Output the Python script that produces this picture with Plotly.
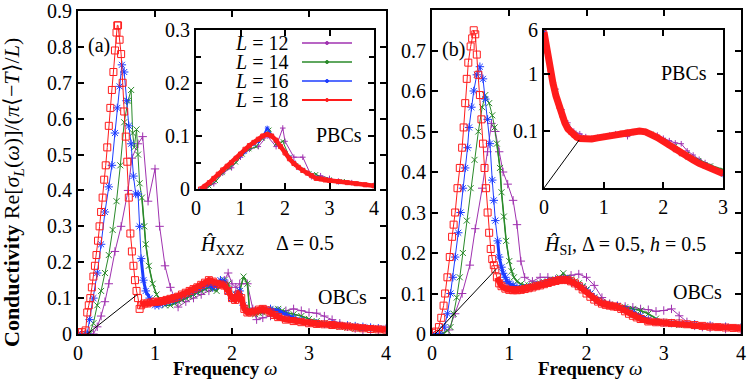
import plotly.graph_objects as go

W, H = 748, 383
FONT = "Liberation Serif, Times New Roman, serif"

# ---- data: (omega, Re sigma) ----
# panel (a): H_XXZ, OBCs
a12 = [(0, 0), (0.1, 0), (0.2, 0.0), (0.25, 0.02), (0.3, 0.05), (0.35, 0.09), (0.4, 0.14), (0.48, 0.23),
       (0.56, 0.3), (0.65, 0.4), (0.7, 0.49), (0.78, 0.53), (0.84, 0.55), (0.91, 0.37), (1.0, 0.46), (1.06, 0.3),
       (1.13, 0.19), (1.2, 0.13), (1.26, 0.1), (1.3, 0.075), (1.4, 0.09), (1.5, 0.1), (1.6, 0.11), (1.7, 0.12),
       (1.8, 0.13), (1.9, 0.15), (1.95, 0.17), (2.0, 0.14), (2.05, 0.13), (2.1, 0.14), (2.2, 0.14), (2.27, 0.07),
       (2.32, 0.04), (2.4, 0.045), (2.5, 0.05), (2.6, 0.055), (2.7, 0.065), (2.8, 0.07), (2.9, 0.065), (3.0, 0.06),
       (3.1, 0.058), (3.2, 0.05), (3.3, 0.04), (3.4, 0.03), (3.5, 0.02), (3.6, 0.015), (3.7, 0.01), (3.8, 0.012),
       (3.9, 0.01), (4.0, 0.008)]
a14 = [(0, 0), (0.1, 0), (0.15, 0.0), (0.2, 0.03), (0.25, 0.08), (0.3, 0.12), (0.35, 0.17), (0.4, 0.22),
       (0.45, 0.29), (0.5, 0.37), (0.55, 0.47), (0.6, 0.59), (0.65, 0.65), (0.69, 0.68), (0.71, 0.56), (0.73, 0.52),
       (0.76, 0.57), (0.78, 0.5), (0.8, 0.42), (0.83, 0.38), (0.86, 0.3), (0.88, 0.25), (0.92, 0.19), (0.97, 0.14),
       (1.02, 0.11), (1.08, 0.09), (1.13, 0.08), (1.2, 0.08), (1.25, 0.085), (1.3, 0.09), (1.35, 0.095), (1.4, 0.1),
       (1.45, 0.105), (1.5, 0.11), (1.55, 0.115), (1.6, 0.12), (1.65, 0.125), (1.7, 0.13), (1.75, 0.125), (1.8, 0.12),
       (1.85, 0.135), (1.9, 0.15), (1.95, 0.14), (2.0, 0.1), (2.05, 0.11), (2.1, 0.12), (2.15, 0.16), (2.2, 0.14),
       (2.23, 0.06), (2.3, 0.055), (2.35, 0.058), (2.4, 0.06), (2.45, 0.063), (2.5, 0.065), (2.55, 0.068), (2.6, 0.07),
       (2.65, 0.065), (2.7, 0.06), (2.8, 0.055), (2.9, 0.05), (3.0, 0.042), (3.1, 0.036), (3.2, 0.03), (3.3, 0.025),
       (3.4, 0.02), (3.5, 0.018), (3.6, 0.015), (3.7, 0.015), (3.8, 0.015), (3.9, 0.013), (4.0, 0.012)]
a16 = [(0, 0), (0.1, 0), (0.12, 0.0), (0.15, 0.04), (0.2, 0.1), (0.25, 0.17), (0.3, 0.25), (0.35, 0.34),
       (0.4, 0.41), (0.44, 0.47), (0.48, 0.56), (0.51, 0.63), (0.54, 0.69), (0.57, 0.75), (0.6, 0.73), (0.63, 0.65),
       (0.66, 0.58), (0.69, 0.53), (0.72, 0.44), (0.75, 0.39), (0.78, 0.39), (0.8, 0.3), (0.82, 0.21), (0.85, 0.15),
       (0.88, 0.12), (0.93, 0.1), (1.0, 0.08), (1.05, 0.08), (1.1, 0.085), (1.15, 0.09), (1.2, 0.092), (1.25, 0.095),
       (1.3, 0.1), (1.35, 0.105), (1.4, 0.11), (1.45, 0.115), (1.5, 0.12), (1.55, 0.125), (1.6, 0.13), (1.65, 0.135),
       (1.7, 0.14), (1.75, 0.13), (1.8, 0.135), (1.85, 0.15), (1.9, 0.145), (1.95, 0.12), (2.0, 0.1), (2.05, 0.11),
       (2.1, 0.12), (2.15, 0.08), (2.2, 0.065), (2.25, 0.062), (2.3, 0.065), (2.4, 0.068), (2.5, 0.07), (2.6, 0.065),
       (2.7, 0.055), (2.8, 0.045), (2.9, 0.038), (3.0, 0.032), (3.1, 0.03), (3.2, 0.028), (3.3, 0.027), (3.4, 0.025),
       (3.5, 0.024), (3.6, 0.022), (3.7, 0.02), (3.8, 0.018), (3.9, 0.016), (4.0, 0.015)]
a18 = [(0, 0.005), (0.05, 0.005), (0.1, 0.01), (0.12, 0.06), (0.14, 0.08), (0.16, 0.1), (0.18, 0.13), (0.2, 0.16),
       (0.22, 0.19), (0.24, 0.22), (0.26, 0.26), (0.28, 0.3), (0.3, 0.34), (0.32, 0.38), (0.34, 0.43), (0.36, 0.47),
       (0.38, 0.52), (0.4, 0.58), (0.42, 0.63), (0.44, 0.68), (0.46, 0.73), (0.48, 0.79), (0.5, 0.84), (0.51, 0.86),
       (0.52, 0.86), (0.54, 0.82), (0.56, 0.78), (0.58, 0.7), (0.6, 0.62), (0.62, 0.55), (0.64, 0.48), (0.66, 0.38),
       (0.68, 0.28), (0.7, 0.23), (0.72, 0.19), (0.74, 0.15), (0.76, 0.12), (0.78, 0.1), (0.8, 0.07), (0.82, 0.08),
       (0.86, 0.085), (0.9, 0.085), (0.95, 0.088), (1.0, 0.09), (1.05, 0.09), (1.1, 0.092), (1.15, 0.095), (1.2, 0.098),
       (1.25, 0.1), (1.3, 0.104), (1.35, 0.11), (1.4, 0.115), (1.45, 0.12), (1.5, 0.125), (1.55, 0.13), (1.6, 0.137),
       (1.65, 0.143), (1.7, 0.15), (1.75, 0.146), (1.8, 0.14), (1.85, 0.138), (1.9, 0.135), (1.95, 0.12), (2.0, 0.1),
       (2.04, 0.095), (2.08, 0.11), (2.12, 0.1), (2.16, 0.07), (2.2, 0.06), (2.25, 0.06), (2.3, 0.063), (2.35, 0.068),
       (2.4, 0.07), (2.45, 0.066), (2.5, 0.06), (2.55, 0.053), (2.6, 0.047), (2.7, 0.04), (2.8, 0.036), (2.9, 0.033),
       (3.0, 0.03), (3.1, 0.028), (3.2, 0.027), (3.3, 0.025), (3.4, 0.023), (3.5, 0.021), (3.6, 0.018), (3.7, 0.016),
       (3.8, 0.014), (3.9, 0.013), (4.0, 0.012)]

# panel (a) inset: PBCs
ia12 = [(0.2, 0), (0.4, 0.01), (0.6, 0.03), (0.8, 0.04), (1.0, 0.06), (1.2, 0.075), (1.4, 0.08), (1.6, 0.1),
        (1.8, 0.08), (1.95, 0.115), (2.0, 0.09), (2.2, 0.06), (2.4, 0.06), (2.6, 0.023), (2.8, 0.025), (3.0, 0.02),
        (3.2, 0.015), (3.5, 0.012), (4.0, 0.007)]
ia14 = [(0.15, 0), (0.3, 0.005), (0.45, 0.015), (0.6, 0.03), (0.75, 0.04), (0.9, 0.05), (1.05, 0.065),
        (1.2, 0.075), (1.35, 0.08), (1.5, 0.095), (1.65, 0.112), (1.8, 0.085), (1.95, 0.09), (2.1, 0.06),
        (2.25, 0.045), (2.4, 0.035), (2.55, 0.03), (2.7, 0.028), (2.85, 0.02), (3.0, 0.018), (3.3, 0.015),
        (3.6, 0.01), (4.0, 0.007)]
ia16 = [(0.1, 0), (0.2, 0.004), (0.3, 0.01), (0.4, 0.018), (0.5, 0.026), (0.6, 0.034), (0.7, 0.042), (0.8, 0.05),
        (0.9, 0.057), (1.0, 0.063), (1.1, 0.07), (1.2, 0.08), (1.3, 0.085), (1.4, 0.09), (1.5, 0.098), (1.6, 0.115),
        (1.7, 0.1), (1.8, 0.09), (1.9, 0.08), (2.0, 0.07), (2.1, 0.06), (2.2, 0.05), (2.3, 0.04), (2.4, 0.036),
        (2.5, 0.03), (2.6, 0.026), (2.7, 0.022), (2.8, 0.02), (3.0, 0.016), (3.2, 0.013), (3.4, 0.012), (3.6, 0.01),
        (3.8, 0.008), (4.0, 0.006)]
ia18 = [(0.1, 0.0), (0.2, 0.005), (0.3, 0.012), (0.4, 0.02), (0.5, 0.028), (0.6, 0.036), (0.7, 0.043), (0.8, 0.05),
        (0.9, 0.058), (1.0, 0.066), (1.1, 0.075), (1.2, 0.082), (1.3, 0.088), (1.4, 0.094), (1.5, 0.1), (1.6, 0.103),
        (1.7, 0.1), (1.8, 0.092), (1.9, 0.08), (2.0, 0.068), (2.1, 0.057), (2.2, 0.048), (2.3, 0.041), (2.4, 0.035),
        (2.5, 0.03), (2.6, 0.025), (2.7, 0.02), (2.8, 0.019), (2.9, 0.017), (3.0, 0.016), (3.2, 0.014), (3.4, 0.012),
        (3.6, 0.01), (3.8, 0.008), (4.0, 0.006)]

# panel (b): H_SI, OBCs
b12 = [(0, 0), (0.1, 0), (0.22, 0.01), (0.3, 0.05), (0.39, 0.1), (0.49, 0.17), (0.56, 0.26), (0.65, 0.36),
       (0.72, 0.45), (0.77, 0.52), (0.82, 0.5), (0.87, 0.45), (0.92, 0.4), (0.98, 0.37), (1.05, 0.33), (1.1, 0.27),
       (1.15, 0.18), (1.2, 0.14), (1.3, 0.13), (1.4, 0.14), (1.5, 0.14), (1.6, 0.135), (1.7, 0.14), (1.8, 0.145),
       (1.9, 0.148), (2.0, 0.14), (2.1, 0.12), (2.2, 0.09), (2.3, 0.075), (2.4, 0.07), (2.5, 0.068), (2.6, 0.066),
       (2.7, 0.062), (2.8, 0.06), (2.9, 0.056), (3.0, 0.058), (3.1, 0.062), (3.2, 0.045), (3.3, 0.03), (3.4, 0.02),
       (3.5, 0.017), (3.6, 0.015), (3.8, 0.012), (4.0, 0.01)]
b14 = [(0, 0), (0.15, 0.002), (0.2, 0.008), (0.24, 0.017), (0.28, 0.05), (0.32, 0.09), (0.36, 0.14), (0.4, 0.2),
       (0.45, 0.28), (0.5, 0.36), (0.55, 0.43), (0.6, 0.5), (0.65, 0.56), (0.69, 0.59), (0.74, 0.57), (0.78, 0.54),
       (0.81, 0.51), (0.84, 0.47), (0.88, 0.41), (0.9, 0.35), (0.93, 0.29), (0.96, 0.23), (1.0, 0.18), (1.03, 0.155),
       (1.06, 0.14), (1.1, 0.13), (1.15, 0.123), (1.2, 0.12), (1.25, 0.12), (1.3, 0.12), (1.35, 0.122), (1.4, 0.125),
       (1.45, 0.128), (1.5, 0.13), (1.55, 0.133), (1.6, 0.135), (1.65, 0.14), (1.7, 0.15), (1.75, 0.14), (1.8, 0.135),
       (1.85, 0.13), (1.9, 0.125), (1.95, 0.118), (2.0, 0.11), (2.05, 0.1), (2.1, 0.09), (2.15, 0.083), (2.2, 0.078),
       (2.3, 0.072), (2.4, 0.068), (2.5, 0.066), (2.6, 0.062), (2.7, 0.058), (2.8, 0.05), (2.9, 0.038), (3.0, 0.03),
       (3.1, 0.025), (3.2, 0.022), (3.4, 0.02), (3.6, 0.018), (3.8, 0.017), (4.0, 0.016)]
b16 = [(0, 0), (0.1, 0.002), (0.16, 0.017), (0.2, 0.05), (0.24, 0.1), (0.27, 0.14), (0.3, 0.19), (0.34, 0.25),
       (0.37, 0.3), (0.4, 0.36), (0.43, 0.41), (0.46, 0.46), (0.48, 0.51), (0.51, 0.56), (0.54, 0.6), (0.58, 0.64),
       (0.62, 0.66), (0.66, 0.63), (0.69, 0.58), (0.72, 0.53), (0.75, 0.47), (0.78, 0.38), (0.8, 0.33), (0.82, 0.28),
       (0.85, 0.23), (0.87, 0.19), (0.9, 0.165), (0.92, 0.15), (0.95, 0.14), (0.97, 0.13), (1.0, 0.125), (1.05, 0.12),
       (1.1, 0.115), (1.15, 0.113), (1.2, 0.113), (1.25, 0.115), (1.3, 0.117), (1.35, 0.12), (1.4, 0.122),
       (1.45, 0.125), (1.5, 0.128), (1.55, 0.13), (1.6, 0.132), (1.65, 0.134), (1.7, 0.136), (1.75, 0.135),
       (1.8, 0.13), (1.85, 0.125), (1.9, 0.12), (1.95, 0.115), (2.0, 0.108), (2.05, 0.1), (2.1, 0.09), (2.15, 0.082),
       (2.2, 0.077), (2.3, 0.072), (2.4, 0.069), (2.5, 0.062), (2.6, 0.054), (2.7, 0.045), (2.8, 0.036), (2.9, 0.031),
       (3.0, 0.028), (3.1, 0.027), (3.2, 0.026), (3.4, 0.024), (3.6, 0.021), (3.8, 0.018), (4.0, 0.016)]
b18 = [(0, 0.003), (0.05, 0.006), (0.09, 0.017), (0.12, 0.04), (0.15, 0.07), (0.17, 0.1), (0.2, 0.14), (0.23, 0.19),
       (0.26, 0.24), (0.28, 0.27), (0.3, 0.3), (0.33, 0.36), (0.36, 0.41), (0.39, 0.46), (0.41, 0.51), (0.43, 0.57),
       (0.45, 0.63), (0.47, 0.67), (0.5, 0.71), (0.52, 0.73), (0.54, 0.75), (0.56, 0.74), (0.58, 0.69), (0.6, 0.64),
       (0.62, 0.59), (0.64, 0.53), (0.66, 0.47), (0.68, 0.41), (0.7, 0.36), (0.72, 0.3), (0.74, 0.25), (0.76, 0.21),
       (0.78, 0.185), (0.8, 0.17), (0.82, 0.16), (0.84, 0.14), (0.87, 0.125), (0.9, 0.118), (0.95, 0.112), (1.0, 0.109),
       (1.05, 0.108), (1.1, 0.108), (1.15, 0.109), (1.2, 0.111), (1.25, 0.113), (1.3, 0.115), (1.35, 0.118),
       (1.4, 0.12), (1.45, 0.123), (1.5, 0.126), (1.55, 0.129), (1.6, 0.131), (1.65, 0.133), (1.7, 0.134),
       (1.75, 0.133), (1.8, 0.13), (1.85, 0.125), (1.9, 0.118), (1.95, 0.11), (2.0, 0.1), (2.05, 0.092), (2.1, 0.085),
       (2.15, 0.08), (2.2, 0.075), (2.25, 0.072), (2.3, 0.07), (2.35, 0.068), (2.4, 0.067), (2.45, 0.062),
       (2.5, 0.056), (2.55, 0.05), (2.6, 0.045), (2.65, 0.041), (2.7, 0.037), (2.8, 0.031), (2.9, 0.029), (3.0, 0.028),
       (3.1, 0.027), (3.2, 0.026), (3.3, 0.024), (3.4, 0.022), (3.5, 0.02), (3.6, 0.018), (3.7, 0.017), (3.8, 0.016),
       (3.9, 0.015), (4.0, 0.014)]

# panel (b) inset: PBCs, log scale
ib12 = [(0, 5.8), (0.1, 1.5), (0.2, 0.55), (0.3, 0.24), (0.4, 0.14), (0.5, 0.1), (0.6, 0.09), (0.7, 0.08),
        (0.8, 0.075), (0.9, 0.078), (1.0, 0.08), (1.1, 0.085), (1.2, 0.09), (1.3, 0.088), (1.4, 0.08), (1.5, 0.095),
        (1.6, 0.1), (1.7, 0.098), (1.8, 0.09), (1.9, 0.085), (2.0, 0.075), (2.1, 0.068), (2.2, 0.062), (2.3, 0.06),
        (2.4, 0.045), (2.5, 0.038), (2.6, 0.032), (2.7, 0.028), (2.8, 0.024), (2.9, 0.021), (3.0, 0.019)]
ib14 = [(0, 5.6), (0.1, 1.4), (0.2, 0.5), (0.3, 0.21), (0.4, 0.12), (0.5, 0.09), (0.6, 0.078), (0.8, 0.074),
        (1.0, 0.08), (1.2, 0.088), (1.4, 0.097), (1.6, 0.1), (1.8, 0.09), (2.0, 0.07), (2.2, 0.055), (2.4, 0.04),
        (2.6, 0.031), (2.8, 0.025), (3.0, 0.021)]
ib16 = [(0, 5.5), (0.1, 1.3), (0.2, 0.46), (0.3, 0.2), (0.4, 0.115), (0.5, 0.087), (0.6, 0.076), (0.8, 0.073),
        (1.0, 0.079), (1.2, 0.087), (1.4, 0.096), (1.6, 0.1), (1.8, 0.089), (2.0, 0.068), (2.2, 0.05), (2.4, 0.037),
        (2.6, 0.029), (2.8, 0.023), (3.0, 0.017)]
ib18 = [(0, 5.5), (0.05, 2.5), (0.1, 1.2), (0.15, 0.7), (0.2, 0.42), (0.25, 0.27), (0.3, 0.19), (0.35, 0.14),
        (0.4, 0.11), (0.45, 0.095), (0.5, 0.085), (0.55, 0.078), (0.6, 0.074), (0.7, 0.072), (0.8, 0.073),
        (0.9, 0.076), (1.0, 0.079), (1.1, 0.083), (1.2, 0.087), (1.3, 0.092), (1.4, 0.096), (1.5, 0.099), (1.6, 0.1),
        (1.7, 0.097), (1.8, 0.088), (1.9, 0.077), (2.0, 0.066), (2.1, 0.056), (2.2, 0.047), (2.3, 0.04),
        (2.4, 0.035), (2.5, 0.031), (2.6, 0.027), (2.7, 0.024), (2.8, 0.022), (2.9, 0.02), (3.0, 0.018)]

# pointer lines
ptr_a = [(0.12, 0.0), (0.77, 0.11)]
ptr_b = [(0.04, 0.0), (0.83, 0.16)]
ptr_b_inset = [(0.0, 0.01), (0.59, 0.07)]

sizes = [12, 14, 16, 18]
colors = {12: '#a032b0', 14: '#2a8a2a', 16: '#1d3cff', 18: '#ff1c1c'}
symbols = {12: 'cross-thin', 14: 'x-thin', 16: 'asterisk-open', 18: 'square-open'}
msize = {12: 6, 14: 6, 16: 7, 18: 7}


def xs(d):
    return [p[0] for p in d]


def ys(d):
    return [p[1] for p in d]


fig = go.Figure()


def main_series(data, L, xa, ya, tail_from):
    c = colors[L]
    fig.add_trace(go.Scatter(x=xs(data), y=ys(data), mode='lines+markers', xaxis=xa, yaxis=ya,
                             line=dict(color=c, width=1),
                             marker=dict(symbol=symbols[L], size=msize[L], color=c,
                                         line=dict(color=c, width=1)),
                             showlegend=False))
    # dense part of the spectrum drawn as a thick band
    tail = [p for p in data if p[0] >= tail_from]
    w = {12: 1, 14: 1.5, 16: 3, 18: 6}[L]
    if w > 1:
        fig.add_trace(go.Scatter(x=xs(tail), y=ys(tail), mode='lines', xaxis=xa, yaxis=ya,
                                 line=dict(color=c, width=w), showlegend=False))


def inset_series(data, L, xa, ya, w):
    c = colors[L]
    fig.add_trace(go.Scatter(x=xs(data), y=ys(data), mode='lines+markers', xaxis=xa, yaxis=ya,
                             line=dict(color=c, width=w),
                             marker=dict(symbol=symbols[L], size=4, color=c, line=dict(color=c, width=1)),
                             showlegend=False))


for L, d in zip(sizes, [a12, a14, a16, a18]):
    main_series(d, L, 'x', 'y', 0.82)
for L, d in zip(sizes, [b12, b14, b16, b18]):
    main_series(d, L, 'x3', 'y3', 0.84)
for L, d in zip(sizes, [ia12, ia14, ia16, ia18]):
    inset_series(d, L, 'x2', 'y2', {12: 1, 14: 1, 16: 2, 18: 4.5}[L])
for L, d in zip(sizes, [ib12, ib14, ib16, ib18]):
    inset_series(d, L, 'x4', 'y4', {12: 1, 14: 1.5, 16: 3, 18: 7}[L])

for d, xa, ya in [(ptr_a, 'x', 'y'), (ptr_b, 'x3', 'y3'), (ptr_b_inset, 'x4', 'y4')]:
    fig.add_trace(go.Scatter(x=xs(d), y=ys(d), mode='lines', xaxis=xa, yaxis=ya,
                             line=dict(color='black', width=1), showlegend=False))


def fx(px):
    return px / W


def fy(py):
    return 1 - py / H


def axis(domain, rng, anchor, **kw):
    d = dict(domain=domain, range=rng, anchor=anchor, showline=True, linecolor='black', linewidth=2,
             mirror='ticks', ticks='inside', ticklen=6, tickwidth=1.5, tickcolor='black', automargin=False,
             showgrid=False, zeroline=False, tickfont=dict(family=FONT, size=20, color='black'))
    d.update(kw)
    return d


fig.update_layout(
    width=W, height=H, margin=dict(l=0, r=0, t=0, b=0),
    paper_bgcolor='white', plot_bgcolor='white',
    xaxis=axis([fx(78), fx(386)], [0, 4], 'y', dtick=1),
    yaxis=axis([fy(334), fy(11)], [0, 0.9], 'x', tickvals=[0, 0.1, 0.2, 0.3, 0.4, 0.5, 0.6, 0.7, 0.8, 0.9],
               ticktext=['0', '0.1', '0.2', '0.3', '0.4', '0.5', '0.6', '0.7', '0.8', '0.9']),
    xaxis2=axis([fx(196), fx(374)], [0, 4], 'y2', dtick=1),
    yaxis2=axis([fy(189), fy(30)], [0, 0.3], 'x2', tickvals=[0, 0.1, 0.2, 0.3],
                ticktext=['0', '0.1', '0.2', '0.3'],
                minor=dict(dtick=0.05, ticks='inside', ticklen=5, tickcolor='black')),
    xaxis3=axis([fx(432), fx(741)], [0, 4], 'y3', dtick=1),
    yaxis3=axis([fy(334), fy(10)], [0, 0.8], 'x3', tickvals=[0, 0.1, 0.2, 0.3, 0.4, 0.5, 0.6, 0.7, 0.8],
                ticktext=['0', '0.1', '0.2', '0.3', '0.4', '0.5', '0.6', '0.7', '0.8']),
    xaxis4=axis([fx(544), fx(723)], [0, 3], 'y4', dtick=1),
    yaxis4=axis([fy(188), fy(30)], [-2, 0.778], 'x4', type='log', tickvals=[0.01, 0.1, 1, 6],
                ticktext=['', '0.1', '1', '6']),
)


def note(text, x, y, size=20, xanchor='center', **kw):
    fig.add_annotation(text=text, x=fx(x), y=fy(y), xref='paper', yref='paper', showarrow=False,
                       xanchor=xanchor, yanchor='middle',
                       font=dict(family=FONT, size=size, color='black'), **kw)


note('<b>Conductivity</b> Re[<i>σ</i><sub><i>L</i></sub>(<i>ω</i>)]/(<i>π</i>⟨−<i>T</i>⟩/<i>L</i>)',
     13, 193, size=22, textangle=-90)
note('<b>Frequency</b> <i>ω</i>', 225, 368, size=19)
note('<b>Frequency</b> <i>ω</i>', 590, 368, size=19)
note('(a)', 99, 45)
note('(b)', 453, 50)
note('<i>Ĥ</i><sub>XXZ</sub>', 222, 245)
note('Δ = 0.5', 305, 243)
note('OBCs', 342, 297)
note('PBCs', 339, 135)
note('<i>Ĥ</i><sub>SI</sub>, Δ = 0.5, <i>h</i> = 0.5', 625, 245)
note('OBCs', 697, 292)
note('PBCs', 684, 73)

# legend inside inset (a)
for i, L in enumerate(sizes):
    yy = 43 + 19 * i
    note('<i>L</i> = %d' % L, 290, yy, xanchor='right')
    fig.add_shape(type='line', xref='paper', yref='paper', x0=fx(302), x1=fx(352),
                  y0=fy(yy), y1=fy(yy), line=dict(color=colors[L], width=1.5 if L < 18 else 2))
    fig.add_shape(type='circle', xref='paper', yref='paper', x0=fx(325.5), x1=fx(328.5),
                  y0=fy(yy + 1.5), y1=fy(yy - 1.5), line=dict(color=colors[L], width=1),
                  fillcolor=colors[L])

fig.write_html("out.html", config={'displayModeBar': False},
               post_script="document.body.style.margin='0';")
